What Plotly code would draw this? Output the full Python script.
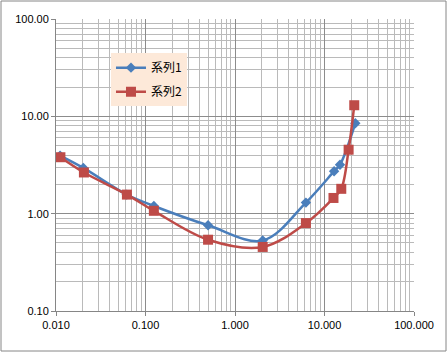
import plotly.graph_objects as go

# Data
s1_x = [0.0111, 0.0202, 0.0617, 0.124, 0.50, 2.04, 6.2, 12.8, 14.9, 22.1]
s1_y = [3.95, 2.95, 1.57, 1.20, 0.76, 0.53, 1.30, 2.73, 3.18, 8.5]
s2_x = [0.0112, 0.0205, 0.062, 0.124, 0.50, 2.04, 6.2, 12.6, 15.4, 18.6, 21.5]
s2_y = [3.8, 2.65, 1.57, 1.07, 0.54, 0.455, 0.80, 1.45, 1.80, 4.54, 13.0]
names = ["系列1", "系列2"]
x_fmt = ".3f"
y_fmt = ".2f"

fig = go.Figure()
fig.add_trace(go.Scatter(
    x=s1_x, y=s1_y, name=names[0], mode="lines+markers", legendgroup="a",
    line=dict(color="#4A7EBB", width=2.5, shape="spline", smoothing=1),
    marker=dict(symbol="diamond", size=8, color="#4A7EBB"),
))
fig.add_trace(go.Scatter(
    x=s2_x, y=s2_y, name=names[1], mode="lines+markers", legendgroup="b",
    line=dict(color="#BE4B48", width=2.5, shape="spline", smoothing=1),
    marker=dict(symbol="square", size=10, color="#BE4B48"),
))

axis_common = dict(
    type="log", showline=True, linecolor="#868686", linewidth=1,
    gridcolor="#8C8C8C", gridwidth=1, zeroline=False,
    tickmode="linear", dtick=1,
    ticks="outside", ticklen=4, tickcolor="#868686",
    tickfont=dict(family="Liberation Sans, Arial", size=11, color="#000000"),
    minor=dict(showgrid=True, dtick="D1", gridcolor="#BABABA", gridwidth=1, ticks=""),
    mirror=False,
)
fig.update_xaxes(range=[-2, 2], tick0=-2, tickformat=x_fmt, **axis_common)
fig.update_yaxes(range=[-1, 2], tick0=-1, tickformat=y_fmt, **axis_common)

fig.update_layout(
    width=448, height=353,
    margin=dict(l=56, r=34, t=19, b=42),
    paper_bgcolor="white", plot_bgcolor="white",
    showlegend=True,
    legend=dict(
        x=0.1536, y=0.883, xanchor="left", yanchor="top",
        bgcolor="#FDE9D9", borderwidth=0,
        font=dict(family="Noto Sans CJK JP, Liberation Sans", size=12, color="#000000"),
        tracegroupgap=5, itemwidth=30,
    ),
    shapes=[dict(
        type="rect", xref="paper", yref="paper",
        x0=(1 - 56) / 358, x1=(446 - 56) / 358,
        y0=(311 - 351) / 292, y1=(311 - 1) / 292,
        line=dict(color="#868686", width=1), layer="below",
    )],
)

fig.write_html("out.html")
